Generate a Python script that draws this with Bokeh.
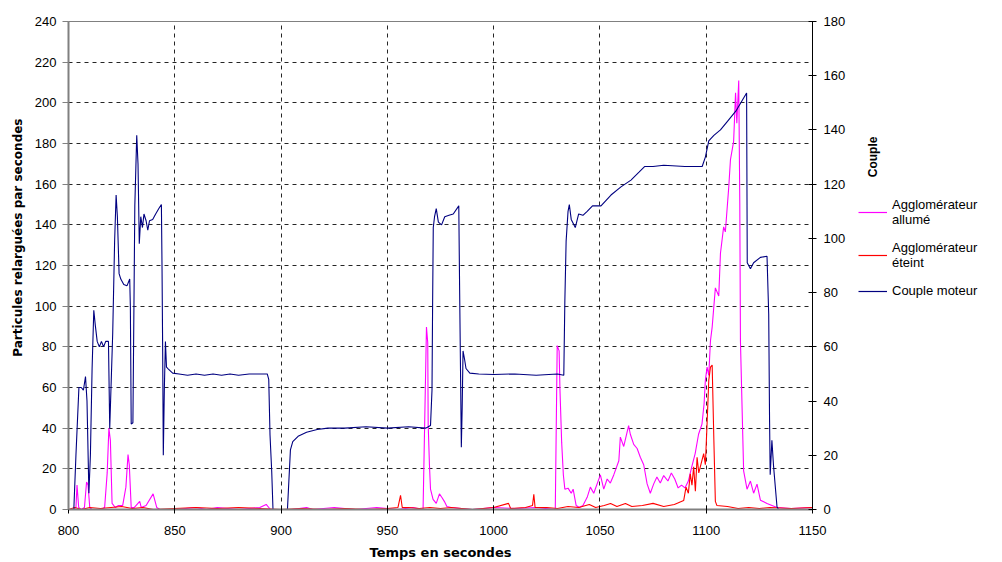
from bokeh.plotting import figure
from bokeh.layouts import row
from bokeh.models import (Range1d, LinearAxis, FixedTicker, Legend, LegendItem, Label, Title)
from bokeh.embed import file_html
from bokeh.resources import INLINE
import math

# ---------------- data ----------------
# Couple moteur (right axis, 0-180)
t_couple = [800, 802.5, 803.5, 804.9, 806, 807, 808, 808.7, 809.6, 810.3, 811.1, 811.9, 812.6,
            813.5, 814.5, 815.5, 816.5, 817.5, 818.8, 819.4, 820.8, 821.7, 822.4, 823, 823.8,
            824.6, 826, 827.5, 828.8, 829.1, 829.5, 830.3, 831.2, 832.1, 832.7, 833.3, 834,
            834.8, 835.5, 836.5, 837.3, 838.1, 839.6, 841, 842.5, 843.7, 844, 844.3, 844.6,
            845.1, 845.6, 846.1, 847, 849, 852, 856, 860, 864, 868, 872, 876, 880, 885, 890,
            893.5, 894.2, 894.8, 895.6, 896.2, 903, 904.4, 905.5, 908, 912, 917, 922, 930,
            940, 950, 960, 968, 970.3, 971, 971.3, 971.6, 972.2, 973, 974, 975.5, 977, 979,
            981, 983.6, 984, 984.5, 984.8, 985.2, 985.6, 986.3, 987, 988.8, 993, 1000, 1010,
            1020, 1030, 1033, 1033.5, 1034.1, 1035, 1035.6, 1036.5, 1038.4, 1040, 1042, 1044,
            1046.5, 1050.5, 1055.2, 1059.9, 1064.6, 1068.5, 1071, 1075, 1080, 1090, 1098.1,
            1099.6, 1101.2, 1103.6, 1106.7, 1109.8, 1114, 1119.0, 1119.3, 1120.8, 1122.3,
            1125.5, 1128.6, 1129.4, 1129.8, 1130.1, 1130.9, 1131.7, 1133.3, 1134, 1150]
couple = [0, 0, 20, 45, 45, 44, 49, 40, 6, 20, 52, 73.5, 68,
          62, 60, 62, 60, 62, 62, 30, 65, 99, 116, 108, 87,
          85, 83, 82.5, 85, 75, 31.5, 32, 112, 138, 127.5, 98, 108,
          104, 109, 106.5, 103, 106.5, 107, 109, 111, 112.5, 89, 58.5, 20,
          45, 62, 52.5, 51.8, 50.3, 50, 49.5, 50, 49.5, 50, 49.5, 50, 49.5, 50, 50,
          50, 48, 27.5, 14, 0, 0, 22, 25, 27, 28.5, 29.5, 30, 30,
          30.5, 30, 30.5, 30, 31, 44, 77, 104, 108, 111, 106, 105, 108, 108.5,
          109, 112, 81, 45, 23, 37.5, 58.5, 55.5, 52, 50.3, 50, 49.8, 50,
          49.5, 50, 49.5, 77, 99, 110, 112.5, 107, 104, 109, 108.5, 110,
          112, 112, 116, 119, 121.5, 124.5, 126.5, 126.5, 127, 126.5, 126.5,
          130, 136, 138, 140, 143, 147, 153.6, 91, 88.8, 91,
          93, 93.4, 72, 33, 12.8, 25.5, 15.8, 1, 0, 0]

# Agglomérateur allumé (left axis)
t_allume = [800, 802, 803.5, 804, 804.8, 806, 807.5, 808.5, 809.2, 810, 811, 815, 817, 818.2,
            819, 819.7, 820.5, 822, 823.5, 825.5, 827, 828, 828.6, 829.5, 831, 833.5, 834.2,
            836.5, 839.8, 841.5, 843, 850, 860, 865, 870, 880, 890, 893, 895, 905, 912, 915,
            925, 935, 945, 955, 962, 966.8, 968.4, 969, 969.2, 969.8, 970.3, 971.5, 973,
            974.5, 975.6, 976.8, 978, 980, 985, 990, 1000, 1010, 1020, 1029, 1029.9, 1030.8,
            1031.2, 1032, 1032.8, 1033.5, 1035, 1036.5, 1037.4, 1038.8, 1040.4, 1042, 1044,
            1045.5, 1047.1, 1050.2, 1051.8, 1053.4, 1054.9, 1056.5, 1058.9, 1059.6, 1061.2,
            1063.5, 1064.3, 1065.9, 1067.5, 1069, 1070.6, 1072.2, 1073.7, 1075.3, 1076.8,
            1078.4, 1080, 1082, 1083.6, 1085.2, 1086.8, 1088.4, 1090, 1091.6, 1093.2, 1094.8,
            1096.4, 1098, 1099, 1099.6, 1100.4, 1101.2, 1102, 1102.8, 1104.3, 1105.9, 1106.7,
            1108.2, 1109, 1110.6, 1111.4, 1112.9, 1113.8, 1114.4, 1115.3, 1115.8, 1116.1,
            1117.6, 1119.2, 1120.8, 1122.3, 1123.9, 1125.5, 1128.6, 1133.3, 1140, 1150]
allume = [0, 0, 1, 12, 1, 0, 1, 13.5, 12, 1, 0, 0, 1, 18,
          40, 34, 3, 1, 2, 2, 11, 27, 22, 1, 1, 4, 1,
          2, 7.7, 1, 0, 0, 1, 0, 1, 0, 1, 2.5, 0, 0, 1, 0,
          1, 0, 1, 0, 1, 0, 89.7, 82, 42, 22, 10, 5, 3,
          7.7, 6, 4, 1.5, 1, 0.5, 0, 1, 0.5, 1, 0, 80.6, 78,
          59, 33, 17, 10, 10.5, 8, 10, 2, 1, 2, 6,
          11, 8, 17, 10, 15, 13, 17, 24, 35.6, 31,
          41.3, 37, 32, 30, 25.7, 22, 12.6, 8, 12.6, 16,
          13, 16.7, 14, 18, 15, 10.6, 12, 10.6, 14, 21, 27.5,
          37, 42, 52, 63.5, 70, 66, 83, 89.7, 109, 105, 126,
          139, 136.5, 158.5, 172, 181, 205, 190, 211, 150, 83,
          19, 10, 14, 8, 12.5, 4.6, 3, 1, 0.5, 1]

# Agglomérateur éteint (left axis)
t_eteint = [800, 803, 806, 810, 815, 820, 825, 830, 835, 840, 850, 860, 870, 880, 890, 900,
            910, 920, 930, 940, 950, 955, 956.2, 957, 960, 965, 970, 975, 980, 990, 1000,
            1007, 1008, 1015, 1018.3, 1018.9, 1019.5, 1025, 1030, 1035, 1040, 1045, 1048,
            1052, 1055, 1058, 1062, 1065, 1070, 1075, 1080, 1085, 1089.4, 1090.5, 1091.6,
            1092.5, 1093.3, 1094.1, 1094.9, 1095.7, 1096.5, 1098.8, 1099.6, 1100.4, 1101.2,
            1102, 1102.8, 1103.6, 1104.3, 1105, 1110, 1115, 1120, 1125, 1130, 1140, 1150]
eteint = [0, 1, 0, 1, 0.5, 1, 1.5, 0.5, 1, 0, 0.5, 1, 0.5, 1, 0.5, 0,
          0.5, 0, 0.5, 0, 0.5, 1, 7, 1, 1, 0.5, 1, 0.5, 1, 0, 1,
          3, 0.5, 1, 2, 7.5, 1, 1, 0.5, 1.5, 1, 2.5, 1,
          2, 3, 1.5, 3, 1.5, 2, 3, 1.5, 2.5, 4.4, 11, 8,
          17.5, 12, 21, 9, 25.7, 18, 27.5, 22, 42, 63.5,
          70, 71, 34, 4, 2, 1.5, 0.5, 1, 0.5, 1, 0.5, 1]

series_names = ["Agglomérateur\nallumé", "Agglomérateur\néteint", "Couple moteur"]
series_colors = ["#FF00FF", "#FF0000", "#000080"]

x_ticks = [800, 850, 900, 950, 1000, 1050, 1100, 1150]
left_ticks = [0, 20, 40, 60, 80, 100, 120, 140, 160, 180, 200, 220, 240]
right_ticks = [0, 20, 40, 60, 80, 100, 120, 140, 160, 180]

FONT = "Liberation Sans"
TFONT = "DejaVu Sans"
H = 560

p = figure(frame_width=744, frame_height=488, width=856, height=H,
           x_range=Range1d(800, 1150), y_range=Range1d(0, 240),
           output_backend="svg", toolbar_location=None,
           min_border_left=68, min_border_right=44, min_border_top=21, min_border_bottom=51)
p.extra_y_ranges = {"couple": Range1d(0, 180)}
p.background_fill_color = "white"
p.border_fill_color = "white"
p.outline_line_color = "#808080"
p.outline_line_width = 1

for ax in (p.xaxis[0], p.yaxis[0]):
    ax.axis_line_color = "#808080"
    ax.axis_line_width = 2
    ax.major_tick_line_color = "#808080"
    ax.minor_tick_line_color = None
    ax.major_label_text_font = FONT
    ax.major_label_text_font_size = "13px"
    ax.major_label_text_color = "black"
p.xaxis[0].ticker = FixedTicker(ticks=x_ticks)
p.xaxis[0].major_tick_in = 4
p.xaxis[0].major_tick_out = 4
p.xaxis[0].major_tick_line_color = "black"
p.xaxis[0].major_label_standoff = 12
p.xaxis[0].axis_label = "Temps en secondes"
p.xaxis[0].axis_label_text_font = TFONT
p.xaxis[0].axis_label_text_font_size = "13px"
p.xaxis[0].axis_label_text_font_style = "bold"
p.xaxis[0].axis_label_text_color = "black"
p.xaxis[0].axis_label_standoff = 7
p.yaxis[0].ticker = FixedTicker(ticks=left_ticks)
p.yaxis[0].major_tick_in = 0
p.yaxis[0].major_tick_out = 6
p.yaxis[0].major_label_standoff = 6

right_axis = LinearAxis(y_range_name="couple", ticker=FixedTicker(ticks=right_ticks))
right_axis.axis_line_color = "black"
right_axis.major_tick_line_color = "black"
right_axis.major_tick_in = 4
right_axis.major_tick_out = 4
right_axis.minor_tick_line_color = None
right_axis.major_label_standoff = 7
right_axis.major_label_text_font = FONT
right_axis.major_label_text_font_size = "13px"
right_axis.major_label_text_color = "black"
p.add_layout(right_axis, "right")

p.add_layout(Title(text="Particules relarguées par secondes", align="right", offset=97,
                   text_font=TFONT, text_font_size="12px", text_font_style="bold",
                   text_color="black", standoff=14), "left")

p.xgrid[0].ticker = FixedTicker(ticks=x_ticks)
p.ygrid[0].ticker = FixedTicker(ticks=left_ticks)
for g in (p.xgrid[0], p.ygrid[0]):
    g.grid_line_color = "black"
    g.grid_line_dash = "4 4"
    g.grid_line_width = 1
    g.grid_line_alpha = 0.85

r1 = p.line(t_allume, allume, line_color=series_colors[0], line_width=1.1)
r2 = p.line(t_eteint, eteint, line_color=series_colors[1], line_width=1.1)
r3 = p.line(t_couple, couple, line_color=series_colors[2], line_width=1.1, y_range_name="couple")

# side panel holding the right-axis title and the legend
SW = 144
side = figure(width=SW, height=H, x_range=Range1d(0, SW), y_range=Range1d(0, H),
              output_backend="svg", toolbar_location=None,
              x_axis_location=None, y_axis_location=None,
              min_border=0, outline_line_color=None)
side.xgrid.visible = False
side.ygrid.visible = False
side.background_fill_color = "white"
side.border_fill_color = "white"

# legend swatches only (placed outside the visible range of the side panel)
swatches = [side.line([-20, -10], [-20, -20], line_color=c, line_width=1.2) for c in series_colors]
legend = Legend(items=[LegendItem(label=n, renderers=[s]) for n, s in zip(series_names, swatches)],
                location=(2, 209), padding=0, margin=0, spacing=13,
                glyph_width=29, glyph_height=14, label_standoff=5,
                label_text_font=FONT, label_text_font_size="13px", label_text_color="black",
                label_text_line_height=1.38,
                label_height=14, border_line_color=None, background_fill_alpha=0)
side.add_layout(legend, "center")
side.add_layout(Label(x=16.5, y=H - 156, text="Couple", angle=math.pi / 2,
                      text_align="center", text_baseline="middle", text_font=FONT,
                      text_font_size="12px", text_font_style="bold", text_color="black"))

open("out.html", "w").write(file_html(row(p, side), INLINE))
